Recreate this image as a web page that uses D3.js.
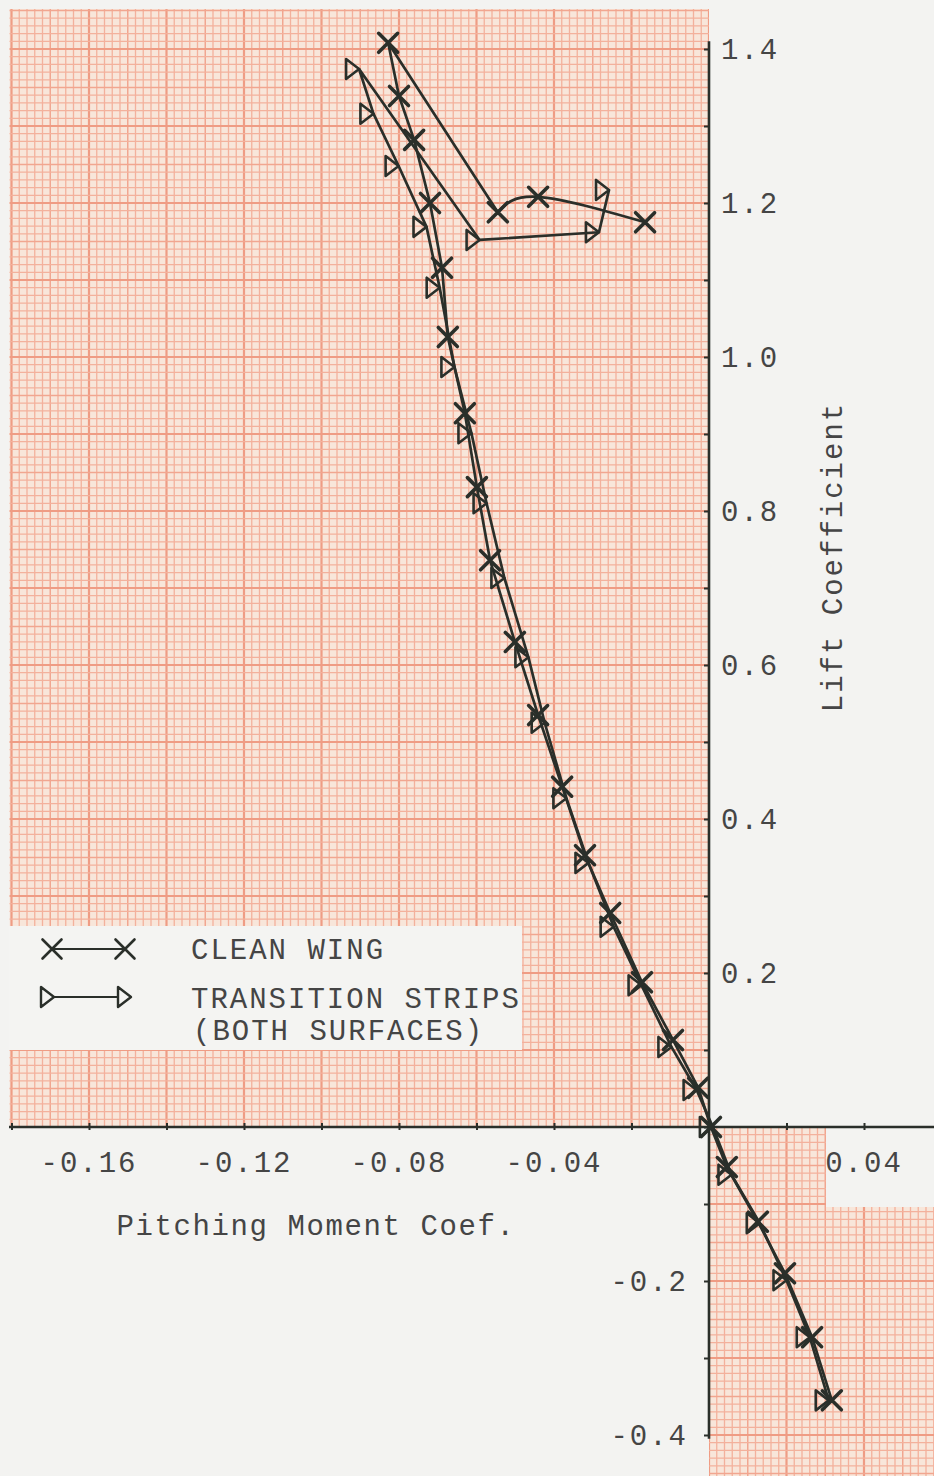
<!DOCTYPE html>
<html>
<head>
<meta charset="utf-8">
<script src="https://cdn.jsdelivr.net/npm/d3@7"></script>
<style>
  html, body { margin: 0; padding: 0; background: #f3f3f1; }
  svg { display: block; }
  text { font-family: "Liberation Mono", "DejaVu Sans Mono", monospace; fill: #454545; }
</style>
</head>
<body>
<svg id="chart" width="934" height="1476"></svg>
<script>
// Pitching moment coefficient (Cm) and lift coefficient (CL), in test order
const cleanCm = [0.0317, 0.0266, 0.0196, 0.0126, 0.0046, 0.0005, -0.0028, -0.0093, -0.0173, -0.0255,
  -0.0320, -0.0379, -0.0441, -0.0501, -0.0565, -0.0599, -0.0630, -0.0674, -0.0689, -0.0720,
  -0.0761, -0.0800, -0.0828, -0.0545, -0.0441, -0.0165];
const cleanCl = [-0.355, -0.273, -0.190, -0.123, -0.052, 0.000, 0.051, 0.113, 0.188, 0.278,
  0.353, 0.442, 0.535, 0.630, 0.736, 0.831, 0.927, 1.026, 1.116, 1.200,
  1.282, 1.339, 1.408, 1.188, 1.208, 1.175];

const stripCm = [0.0309, 0.0260, 0.0200, 0.0131, 0.0058, 0.0010, -0.0032, -0.0097, -0.0174, -0.0246,
  -0.0311, -0.0368, -0.0424, -0.0466, -0.0528, -0.0574, -0.0613, -0.0657, -0.0695, -0.0729,
  -0.0801, -0.0866, -0.0903, -0.0592, -0.0284, -0.0258];
const stripCl = [-0.355, -0.273, -0.199, -0.125, -0.062, 0.000, 0.048, 0.104, 0.184, 0.260,
  0.343, 0.427, 0.525, 0.610, 0.713, 0.810, 0.901, 0.987, 1.090, 1.169,
  1.248, 1.316, 1.374, 1.152, 1.162, 1.217];

// Clean-wing points after stall are joined by a faired curve
const cleanFairedFrom = 23;

const xTickValues = d3.range(-9, 4).map(i => i * 0.02);
const xLabelValues = [-0.16, -0.12, -0.08, -0.04, 0.04];
const xLabelText = ["-0.16", "-0.12", "-0.08", "-0.04", "0.04"];
const yTickValues = d3.range(-4, 15).map(i => i / 10);
const yLabelValues = [1.4, 1.2, 1.0, 0.8, 0.6, 0.4, 0.2, -0.2, -0.4];
const yLabelText = ["1.4", "1.2", "1.0", "0.8", "0.6", "0.4", "0.2", "-0.2", "-0.4"];

const legendLabels = ["CLEAN WING", "TRANSITION STRIPS", "(BOTH SURFACES)"];
const xTitle = "Pitching Moment Coef.";
const yTitle = "Lift Coefficient";

const svg = d3.select("#chart");
const W = 934, H = 1476;

const x = d3.scaleLinear().domain([0, 0.04]).range([709, 864]);
const y = d3.scaleLinear().domain([0, 1.4]).range([1127, 49]);

const ink = "#2a2f2a";

// ---------- graph paper ----------
const paper = svg.append("g");
const defs = svg.append("defs");
const clip = defs.append("clipPath").attr("id", "paperClip");
// upper-left sheet and lower-right sheet
clip.append("rect")
  .attr("x", x(-0.1805)).attr("y", 9)
  .attr("width", x(0) - x(-0.1805)).attr("height", y(0) - 9);
clip.append("rect")
  .attr("x", x(0)).attr("y", y(0))
  .attr("width", W - x(0)).attr("height", H - y(0));

const grid = paper.append("g").attr("clip-path", "url(#paperClip)");
grid.append("rect").attr("x", 0).attr("y", 0).attr("width", W).attr("height", H).attr("fill", "#f8e6da");

const cmSteps = d3.range(-95, 35);     // steps of 0.002
const clSteps = d3.range(-50, 150);    // steps of 0.01
function gridStyle(sel, major, mid) {
  sel.attr("stroke", d => d % major === 0 ? "#ef9c84" : (d % mid === 0 ? "#f1a690" : "#f3b19c"))
     .attr("stroke-width", d => d % major === 0 ? 2.2 : (d % mid === 0 ? 1.5 : 1.3));
}
grid.append("g").selectAll("line").data(cmSteps).join("line")
  .attr("x1", d => x(d * 0.002)).attr("x2", d => x(d * 0.002))
  .attr("y1", 0).attr("y2", H)
  .call(gridStyle, 10, 5);
grid.append("g").selectAll("line").data(clSteps).join("line")
  .attr("y1", d => y(d * 0.01)).attr("y2", d => y(d * 0.01))
  .attr("x1", 0).attr("x2", W)
  .call(gridStyle, 10, 5);

// blank paper patch behind the 0.04 label
paper.append("rect")
  .attr("x", 826).attr("y", y(0))
  .attr("width", W - 826).attr("height", 80)
  .attr("fill", "#f3f3f1");

// ---------- legend card ----------
const legend = svg.append("g");
legend.append("rect")
  .attr("x", 9).attr("y", 926).attr("width", 513).attr("height", 124)
  .attr("fill", "#f4f4f2");

// ---------- axes ----------
const xAxis = d3.axisBottom(x).tickValues(xTickValues).tickSize(6).tickFormat("");
const xAxisG = svg.append("g").attr("transform", `translate(0,${y(0)})`).call(xAxis);
xAxisG.select(".domain").remove();
xAxisG.selectAll(".tick line").attr("y1", -4).attr("y2", 3).attr("stroke", ink).attr("stroke-width", 2);
svg.append("line")
  .attr("x1", 9).attr("x2", W).attr("y1", y(0)).attr("y2", y(0))
  .attr("stroke", ink).attr("stroke-width", 2.4);

const yAxis = d3.axisLeft(y).tickValues(yTickValues).tickSize(5).tickFormat("");
const yAxisG = svg.append("g").attr("transform", `translate(${x(0)},0)`).call(yAxis);
yAxisG.select(".domain").remove();
yAxisG.selectAll(".tick line").attr("stroke", ink).attr("stroke-width", 2);
svg.append("line")
  .attr("x1", x(0)).attr("x2", x(0)).attr("y1", y(1.41)).attr("y2", y(-0.405))
  .attr("stroke", ink).attr("stroke-width", 2.6);

const fontSize = 29, spacing = 2;

svg.append("g").selectAll("text").data(xLabelValues).join("text")
  .attr("x", d => x(d)).attr("y", 1172)
  .attr("text-anchor", "middle")
  .attr("font-size", fontSize).attr("letter-spacing", spacing)
  .text((d, i) => xLabelText[i]);

svg.append("g").selectAll("text").data(yLabelValues).join("text")
  .attr("x", d => d > 0 ? 721 : 688)
  .attr("y", d => y(d) + 10)
  .attr("text-anchor", d => d > 0 ? "start" : "end")
  .attr("font-size", fontSize).attr("letter-spacing", spacing)
  .text((d, i) => yLabelText[i]);

svg.append("text")
  .attr("x", 316).attr("y", 1235)
  .attr("text-anchor", "middle")
  .attr("font-size", fontSize).attr("letter-spacing", 1.6)
  .text(xTitle);

svg.append("text")
  .attr("transform", "translate(842,557) rotate(-90)")
  .attr("text-anchor", "middle")
  .attr("font-size", fontSize).attr("letter-spacing", spacing)
  .text(yTitle);

// ---------- markers ----------
function crossPath(px, py) {
  const r = 9.5;
  return `M${px - r},${py - r}L${px + r},${py + r}M${px - r},${py + r}L${px + r},${py - r}`;
}
function trianglePath(px, py) {
  // right-pointing, apex on the data point
  const w = 13, h = 10;
  return `M${px},${py}L${px - w},${py - h}L${px - w},${py + h}Z`;
}

const cleanPts = cleanCm.map((c, i) => [c, cleanCl[i]]);
const stripPts = stripCm.map((c, i) => [c, stripCl[i]]);

const lineLin = d3.line().x(d => x(d[0])).y(d => y(d[1])).curve(d3.curveLinear);
const lineFair = d3.line().x(d => x(d[0])).y(d => y(d[1])).curve(d3.curveNatural);

const plot = svg.append("g");
const lw = 2.7;
plot.append("path")
  .attr("d", lineLin(stripPts))
  .attr("fill", "none").attr("stroke", ink).attr("stroke-width", lw).attr("stroke-linejoin", "round");
plot.append("path")
  .attr("d", lineLin(cleanPts.slice(0, cleanFairedFrom + 1)))
  .attr("fill", "none").attr("stroke", ink).attr("stroke-width", lw).attr("stroke-linejoin", "round");
plot.append("path")
  .attr("d", lineFair(cleanPts.slice(cleanFairedFrom)))
  .attr("fill", "none").attr("stroke", ink).attr("stroke-width", lw);

plot.append("g").selectAll("path").data(stripPts).join("path")
  .attr("d", d => trianglePath(x(d[0]), y(d[1])))
  .attr("fill", "none").attr("stroke", ink).attr("stroke-width", 2.6).attr("stroke-linejoin", "round");
plot.append("g").selectAll("path").data(cleanPts).join("path")
  .attr("d", d => crossPath(x(d[0]), y(d[1])))
  .attr("fill", "none").attr("stroke", ink).attr("stroke-width", 3.6).attr("stroke-linecap", "round");

// ---------- legend entries ----------
legend.append("line").attr("x1", 52).attr("x2", 125).attr("y1", 949).attr("y2", 949)
  .attr("stroke", ink).attr("stroke-width", 2.2);
legend.append("path").attr("d", crossPath(52, 949) + crossPath(125, 949))
  .attr("fill", "none").attr("stroke", ink).attr("stroke-width", 2.6).attr("stroke-linecap", "round");
legend.append("line").attr("x1", 54).attr("x2", 118).attr("y1", 997).attr("y2", 997)
  .attr("stroke", ink).attr("stroke-width", 2.2);
legend.append("path").attr("d", trianglePath(54, 997) + trianglePath(131, 997))
  .attr("fill", "none").attr("stroke", ink).attr("stroke-width", 2.4).attr("stroke-linejoin", "round");

legend.selectAll("text").data(legendLabels).join("text")
  .attr("x", (d, i) => i === 2 ? 193 : 191)
  .attr("y", (d, i) => [959, 1008, 1040][i])
  .attr("font-size", fontSize).attr("letter-spacing", spacing)
  .text(d => d);
</script>
</body>
</html>
